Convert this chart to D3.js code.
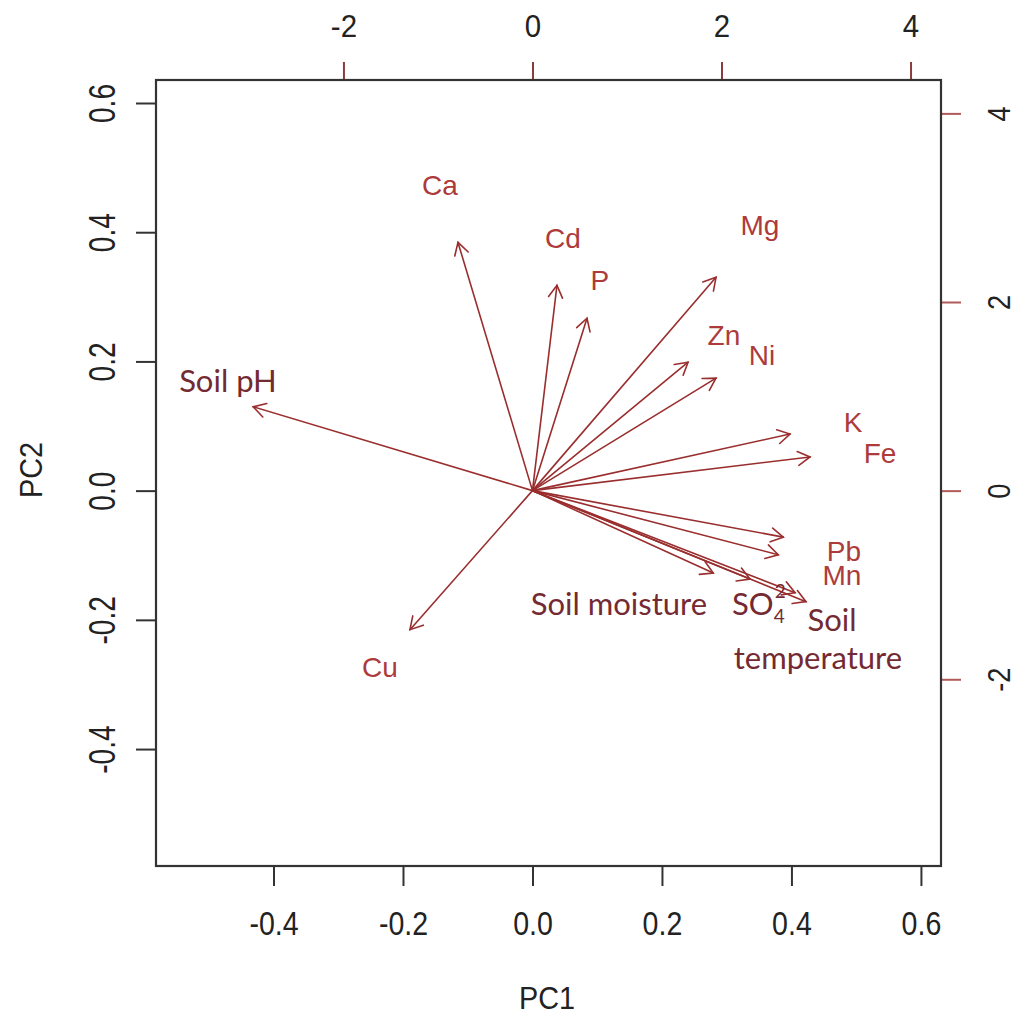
<!DOCTYPE html>
<html>
<head>
<meta charset="utf-8">
<script src="https://cdn.jsdelivr.net/npm/d3@7"></script>
<style>
  body { margin: 0; background: #fff; }
  svg { display: block; }
</style>
</head>
<body>
<script>
// tick values of the four axes
var xTicks = [-0.4, -0.2, 0.0, 0.2, 0.4, 0.6];
var yTicks = [-0.4, -0.2, 0.0, 0.2, 0.4, 0.6];
var topTicks = [-2, 0, 2, 4];
var rightTicks = [-2, 0, 2, 4];

// plot limits (scores) and the factor to the loading axes
var xLim = [-0.5815, 0.631];
var yLim = [-0.581, 0.6356];
var loadRatio = 6.85;

// variables, arrow tips (loading units) and label positions (loading units)
var variables = ["Ca", "Cd", "P", "Mg", "Zn", "Ni", "Soil pH", "K", "Fe",
                 "Pb", "Mn", "Soil moisture", "SO4", "", "Soil temperature", "Cu"];
var arrowX = [-0.788, 0.259, 0.577, 1.942, 1.646, 1.942, -2.955, 2.725, 2.937,
              2.654, 2.601, 1.913, 2.302, 2.778, 2.894, -1.296];
var arrowY = [2.632, 2.177, 1.828, 2.262, 1.362, 1.193, 0.889, 0.600, 0.357,
              -0.493, -0.680, -0.874, -0.938, -1.083, -1.177, -1.474];
var labelX = [-0.979, 0.323, 0.714, 2.407, 2.026, 2.429, -3.222, 3.392, 3.677,
              3.296, 3.275, 0.915, 2.312, 0, 3.095, -1.614];
var labelY = [3.235, 2.674, 2.230, 2.812, 1.648, 1.436, 1.161, 0.727, 0.399,
              -0.640, -0.900, -1.199, -1.199, 0, -1.574, -1.876];

// labels that were retyped in another font on the original figure
var retyped = ["Soil pH", "Soil moisture", "SO4", "Soil temperature"];

var W = 1016, H = 1016;
var mLeft = 156, mRight = 941, mTop = 80, mBottom = 866;

var svg = d3.select("body").append("svg")
    .attr("width", W)
    .attr("height", H);

var x = d3.scaleLinear().domain(xLim).range([mLeft, mRight]);
var y = d3.scaleLinear().domain(yLim).range([mBottom, mTop]);
var x2 = d3.scaleLinear().domain(xLim.map(function(v) { return v * loadRatio; })).range([mLeft, mRight]);
var y2 = d3.scaleLinear().domain(yLim.map(function(v) { return v * loadRatio; })).range([mBottom, mTop]);

var axisFont = "'Liberation Sans', Arial, sans-serif";
var red = "#9a2e2e";

// bottom axis
var gx = svg.append("g")
    .attr("transform", "translate(0," + mBottom + ")")
    .call(d3.axisBottom(x).tickValues(xTicks).tickSize(20).tickPadding(25)
        .tickFormat(function(d) { return d.toFixed(1); }));
gx.selectAll("text")
    .style("font-family", axisFont).style("font-size", "34px").attr("fill", "#222")
    .attr("transform", "scale(0.84,1)");

// left axis
var gy = svg.append("g")
    .attr("transform", "translate(" + mLeft + ",0)")
    .call(d3.axisLeft(y).tickValues(yTicks).tickSize(20)
        .tickFormat(function(d) { return d.toFixed(1); }));
gy.selectAll("text")
    .attr("x", 0).attr("dy", 0).attr("text-anchor", "middle")
    .style("font-family", axisFont).style("font-size", "37px").attr("fill", "#222")
    .attr("transform", "translate(-41,0) rotate(-90) scale(0.76,1)");

// top axis (loadings)
var gt = svg.append("g")
    .attr("transform", "translate(0," + mTop + ")")
    .call(d3.axisTop(x2).tickValues(topTicks).tickSize(18).tickPadding(25)
        .tickFormat(function(d) { return d; }));
gt.selectAll("text")
    .style("font-family", axisFont).style("font-size", "31px").attr("fill", "#222")
    .attr("transform", "scale(0.95,1)");

// right axis (loadings)
var gr = svg.append("g")
    .attr("transform", "translate(" + mRight + ",0)")
    .call(d3.axisRight(y2).tickValues(rightTicks).tickSize(20)
        .tickFormat(function(d) { return d; }));
gr.selectAll("text")
    .attr("x", 0).attr("dy", 0).attr("text-anchor", "middle")
    .style("font-family", axisFont).style("font-size", "32px").attr("fill", "#222")
    .attr("transform", "translate(69,0) rotate(-90) scale(0.85,1)");

svg.selectAll(".domain").remove();
gx.selectAll("line").attr("stroke", "#333").attr("stroke-width", 2);
gy.selectAll("line").attr("stroke", "#333").attr("stroke-width", 2);
gt.selectAll("line").attr("stroke", "#8c3b3b").attr("stroke-width", 2);
gr.selectAll("line").attr("stroke", "#b05a5a").attr("stroke-width", 2);

// frame
svg.append("rect")
    .attr("x", mLeft).attr("y", mTop)
    .attr("width", mRight - mLeft).attr("height", mBottom - mTop)
    .attr("fill", "none").attr("stroke", "#333").attr("stroke-width", 2.2);

// axis titles
svg.append("text")
    .attr("transform", "translate(547,1009) scale(0.9,1)")
    .attr("text-anchor", "middle")
    .style("font-family", axisFont).style("font-size", "32px").attr("fill", "#222")
    .text("PC1");
svg.append("text")
    .attr("transform", "translate(42,470) rotate(-90) scale(0.9,1)")
    .attr("text-anchor", "middle")
    .style("font-family", axisFont).style("font-size", "32px").attr("fill", "#222")
    .text("PC2");

// arrows
var ox = x2(0), oy = y2(0);
var arrows = svg.append("g").attr("fill", "none").attr("stroke", red)
    .attr("stroke-width", 1.6).attr("stroke-linecap", "round");
variables.forEach(function(v, i) {
    var tx = x2(arrowX[i]), ty = y2(arrowY[i]);
    var ang = Math.atan2(ty - oy, tx - ox);
    var len = 14, spread = Math.PI / 6;
    arrows.append("line")
        .attr("x1", ox).attr("y1", oy).attr("x2", tx).attr("y2", ty);
    arrows.append("path")
        .attr("d", "M" + (tx - len * Math.cos(ang - spread)) + "," + (ty - len * Math.sin(ang - spread)) +
                   "L" + tx + "," + ty +
                   "L" + (tx - len * Math.cos(ang + spread)) + "," + (ty - len * Math.sin(ang + spread)));
});

// labels
var labels = svg.append("g").attr("text-anchor", "middle");
variables.forEach(function(v, i) {
    if (v === "") return;
    var lx = x2(labelX[i]), ly = y2(labelY[i]);
    if (retyped.indexOf(v) < 0) {
        labels.append("text")
            .attr("x", lx).attr("y", ly).attr("dy", "0.35em")
            .style("font-family", axisFont).style("font-size", "28px")
            .attr("fill", "#ad3b3b")
            .text(v);
        return;
    }
    var t = labels.append("text")
        .style("font-family", "Lato, 'Open Sans', sans-serif").style("font-size", "31px")
        .attr("fill", "#742a33");
    if (v === "SO4") {
        t.attr("x", lx).attr("y", ly).attr("dy", "0.35em").attr("text-anchor", "start")
            .attr("dx", -19);
        t.append("tspan").text("SO");
        t.append("tspan").attr("dy", 8).style("font-size", "19px").text("4");
        t.append("tspan").attr("dx", -10).attr("dy", -25).style("font-size", "19px").text("2");
    } else if (v === "Soil temperature") {
        t.append("tspan").attr("x", lx + 7).attr("y", ly - 19).attr("dy", "0.35em").text("Soil");
        t.append("tspan").attr("x", lx - 7).attr("y", ly + 19).attr("dy", "0.35em").text("temperature");
    } else {
        t.attr("x", lx).attr("y", ly).attr("dy", "0.35em").text(v);
    }
});
</script>
</body>
</html>
